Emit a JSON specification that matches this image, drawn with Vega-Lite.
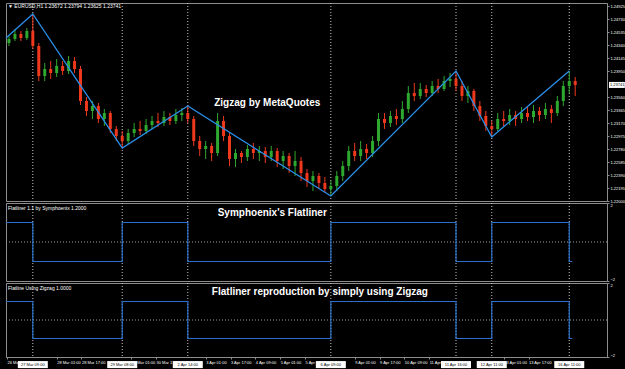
{
  "$schema": "https://vega.github.io/schema/vega-lite/v6.json",
  "background": "#000000",
  "padding": {"left": 2, "top": 2, "right": 2, "bottom": 0},
  "spacing": 2,
  "bounds": "flush",
  "resolve": {"scale": {"x": "shared"}},
  "datasets": {
    "candles": [
      {"t":3,"o":1.2437,"h":1.24475,"l":1.24325,"c":1.2443},
      {"t":9,"o":1.2443,"h":1.2458,"l":1.244,"c":1.24505},
      {"t":15,"o":1.24505,"h":1.2455,"l":1.244,"c":1.24445},
      {"t":21,"o":1.24445,"h":1.24595,"l":1.24415,"c":1.2455},
      {"t":27,"o":1.2455,"h":1.24805,"l":1.2428,"c":1.24325},
      {"t":33,"o":1.24325,"h":1.2437,"l":1.238,"c":1.23875},
      {"t":39,"o":1.23875,"h":1.2407,"l":1.238,"c":1.2398},
      {"t":45,"o":1.2398,"h":1.241,"l":1.2383,"c":1.2392},
      {"t":51,"o":1.2392,"h":1.2413,"l":1.2386,"c":1.24025},
      {"t":57,"o":1.24025,"h":1.241,"l":1.2389,"c":1.2395},
      {"t":63,"o":1.2395,"h":1.24175,"l":1.23905,"c":1.241},
      {"t":69,"o":1.241,"h":1.2416,"l":1.2392,"c":1.2398},
      {"t":75,"o":1.2398,"h":1.24025,"l":1.2344,"c":1.235},
      {"t":81,"o":1.235,"h":1.2356,"l":1.23275,"c":1.2335},
      {"t":87,"o":1.2335,"h":1.235,"l":1.2323,"c":1.23425},
      {"t":93,"o":1.23425,"h":1.2347,"l":1.2317,"c":1.2323},
      {"t":99,"o":1.2323,"h":1.2338,"l":1.23125,"c":1.2332},
      {"t":105,"o":1.2332,"h":1.2335,"l":1.2302,"c":1.2308},
      {"t":111,"o":1.2308,"h":1.23125,"l":1.229,"c":1.22975},
      {"t":117,"o":1.22975,"h":1.2305,"l":1.22795,"c":1.229},
      {"t":123,"o":1.229,"h":1.2308,"l":1.22855,"c":1.2302},
      {"t":129,"o":1.2302,"h":1.2317,"l":1.2296,"c":1.2308},
      {"t":135,"o":1.2308,"h":1.232,"l":1.2299,"c":1.2305},
      {"t":141,"o":1.2305,"h":1.2323,"l":1.23005,"c":1.2314},
      {"t":147,"o":1.2314,"h":1.23275,"l":1.2308,"c":1.232},
      {"t":153,"o":1.232,"h":1.2332,"l":1.2311,"c":1.2317},
      {"t":159,"o":1.2317,"h":1.2335,"l":1.23125,"c":1.2326},
      {"t":165,"o":1.2326,"h":1.2332,"l":1.2314,"c":1.232},
      {"t":171,"o":1.232,"h":1.2338,"l":1.23155,"c":1.2329},
      {"t":177,"o":1.2329,"h":1.23395,"l":1.232,"c":1.2332},
      {"t":183,"o":1.2332,"h":1.23425,"l":1.2317,"c":1.2323},
      {"t":189,"o":1.2323,"h":1.23275,"l":1.22825,"c":1.229},
      {"t":195,"o":1.229,"h":1.22975,"l":1.22675,"c":1.2278},
      {"t":201,"o":1.2278,"h":1.229,"l":1.2263,"c":1.22825},
      {"t":207,"o":1.22825,"h":1.2287,"l":1.226,"c":1.2272},
      {"t":213,"o":1.2272,"h":1.2332,"l":1.22675,"c":1.232},
      {"t":219,"o":1.232,"h":1.23275,"l":1.229,"c":1.22975},
      {"t":225,"o":1.22975,"h":1.2302,"l":1.22525,"c":1.2263},
      {"t":231,"o":1.2263,"h":1.2278,"l":1.2251,"c":1.2272},
      {"t":237,"o":1.2272,"h":1.2275,"l":1.2257,"c":1.2266},
      {"t":243,"o":1.2266,"h":1.2284,"l":1.226,"c":1.2278},
      {"t":249,"o":1.2278,"h":1.2287,"l":1.2263,"c":1.2272},
      {"t":255,"o":1.2272,"h":1.22825,"l":1.226,"c":1.2275},
      {"t":261,"o":1.2275,"h":1.2281,"l":1.2257,"c":1.2266},
      {"t":267,"o":1.2266,"h":1.22825,"l":1.226,"c":1.2275},
      {"t":273,"o":1.2275,"h":1.22795,"l":1.2251,"c":1.226},
      {"t":279,"o":1.226,"h":1.2275,"l":1.2248,"c":1.22675},
      {"t":285,"o":1.22675,"h":1.2272,"l":1.2242,"c":1.22525},
      {"t":291,"o":1.22525,"h":1.2275,"l":1.22375,"c":1.226},
      {"t":297,"o":1.226,"h":1.2266,"l":1.223,"c":1.2242},
      {"t":303,"o":1.2242,"h":1.2248,"l":1.2221,"c":1.223},
      {"t":309,"o":1.223,"h":1.2245,"l":1.2215,"c":1.22375},
      {"t":315,"o":1.22375,"h":1.2242,"l":1.2218,"c":1.2227},
      {"t":321,"o":1.2227,"h":1.2236,"l":1.2212,"c":1.2218},
      {"t":327,"o":1.2218,"h":1.223,"l":1.22075,"c":1.22225},
      {"t":333,"o":1.22225,"h":1.2245,"l":1.2215,"c":1.22375},
      {"t":339,"o":1.22375,"h":1.226,"l":1.223,"c":1.22525},
      {"t":345,"o":1.22525,"h":1.22825,"l":1.2245,"c":1.2275},
      {"t":351,"o":1.2275,"h":1.2287,"l":1.226,"c":1.22675},
      {"t":357,"o":1.22675,"h":1.229,"l":1.226,"c":1.2278},
      {"t":363,"o":1.2278,"h":1.22855,"l":1.2263,"c":1.2272},
      {"t":369,"o":1.2272,"h":1.22975,"l":1.2266,"c":1.229},
      {"t":375,"o":1.229,"h":1.2332,"l":1.22825,"c":1.2323},
      {"t":381,"o":1.2323,"h":1.2332,"l":1.2308,"c":1.2317},
      {"t":387,"o":1.2317,"h":1.2335,"l":1.2311,"c":1.23275},
      {"t":393,"o":1.23275,"h":1.2338,"l":1.2314,"c":1.2323},
      {"t":399,"o":1.2323,"h":1.235,"l":1.2317,"c":1.2338},
      {"t":405,"o":1.2338,"h":1.23725,"l":1.2332,"c":1.2362},
      {"t":411,"o":1.2362,"h":1.2377,"l":1.235,"c":1.23575},
      {"t":417,"o":1.23575,"h":1.2377,"l":1.2353,"c":1.2368},
      {"t":423,"o":1.2368,"h":1.2374,"l":1.2356,"c":1.2362},
      {"t":429,"o":1.2362,"h":1.238,"l":1.23575,"c":1.23725},
      {"t":435,"o":1.23725,"h":1.2383,"l":1.2362,"c":1.2368},
      {"t":441,"o":1.2368,"h":1.23875,"l":1.2365,"c":1.238},
      {"t":447,"o":1.238,"h":1.2392,"l":1.2371,"c":1.2383},
      {"t":453,"o":1.2383,"h":1.2395,"l":1.2365,"c":1.23725},
      {"t":459,"o":1.23725,"h":1.238,"l":1.235,"c":1.23575},
      {"t":465,"o":1.23575,"h":1.23725,"l":1.2347,"c":1.2365},
      {"t":471,"o":1.2365,"h":1.2368,"l":1.2335,"c":1.23425},
      {"t":477,"o":1.23425,"h":1.235,"l":1.232,"c":1.23275},
      {"t":483,"o":1.23275,"h":1.2335,"l":1.2305,"c":1.23125},
      {"t":489,"o":1.23125,"h":1.232,"l":1.2296,"c":1.2308},
      {"t":495,"o":1.2308,"h":1.2332,"l":1.2305,"c":1.2323},
      {"t":501,"o":1.2323,"h":1.2335,"l":1.2311,"c":1.232},
      {"t":507,"o":1.232,"h":1.2338,"l":1.2314,"c":1.2329},
      {"t":513,"o":1.2329,"h":1.2335,"l":1.23125,"c":1.2323},
      {"t":519,"o":1.2323,"h":1.2341,"l":1.2317,"c":1.2332},
      {"t":525,"o":1.2332,"h":1.23425,"l":1.232,"c":1.2326},
      {"t":531,"o":1.2326,"h":1.2344,"l":1.2317,"c":1.2335},
      {"t":537,"o":1.2335,"h":1.2341,"l":1.232,"c":1.2329},
      {"t":543,"o":1.2329,"h":1.2347,"l":1.2323,"c":1.2338},
      {"t":549,"o":1.2338,"h":1.2344,"l":1.2317,"c":1.2332},
      {"t":555,"o":1.2332,"h":1.23575,"l":1.23275,"c":1.235},
      {"t":561,"o":1.235,"h":1.238,"l":1.23425,"c":1.23725},
      {"t":567,"o":1.23725,"h":1.2395,"l":1.2362,"c":1.238},
      {"t":573,"o":1.238,"h":1.2386,"l":1.23575,"c":1.23741}
    ],
    "zigzag": [
      {"t":0,"p":1.24445},
      {"t":27,"p":1.24805},
      {"t":117,"p":1.22795},
      {"t":183,"p":1.23425},
      {"t":327,"p":1.22075},
      {"t":453,"p":1.2395},
      {"t":489,"p":1.2296},
      {"t":567,"p":1.2395}
    ],
    "vlines": [
      {"t":27,"label":"27 Mar 09:00"},
      {"t":117,"label":"29 Mar 08:00"},
      {"t":183,"label":"2 Apr 14:00"},
      {"t":327,"label":"6 Apr 09:00"},
      {"t":453,"label":"11 Apr 16:00"},
      {"t":489,"label":"12 Apr 11:00"},
      {"t":567,"label":"16 Apr 11:00"}
    ],
    "flat": [
      {"t":0,"v":1},
      {"t":27,"v":-1},
      {"t":117,"v":1},
      {"t":183,"v":-1},
      {"t":327,"v":1},
      {"t":453,"v":-1},
      {"t":489,"v":1},
      {"t":567,"v":-1},
      {"t":570,"v":-1}
    ]
  },
  "config": {
    "background": "#000000",
    "font": "Liberation Sans",
    "view": {"stroke": "#8c8c8c", "strokeWidth": 1},
    "axis": {
      "grid": false,
      "domainColor": "#8c8c8c",
      "tickColor": "#8c8c8c",
      "tickSize": 2,
      "labelColor": "#ffffff",
      "labelFontSize": 4,
      "labelFont": "Liberation Sans",
      "labelPadding": 1,
      "labelOverlap": false,
      "labelSeparation": 0,
      "title": null
    }
  },
  "vconcat": [
    {
      "width": 601,
      "height": 198,
      "layer": [
        {
          "data": {"name": "vlines"},
          "mark": {"type": "rule", "color": "#c8c8c8", "strokeDash": [1, 2], "strokeWidth": 1},
          "encoding": {"x": {"field": "t", "type": "quantitative", "scale": {"domain": [0, 605], "padding": 0, "nice": false, "zero": false}, "axis": null}}
        },
        {
          "data": {"name": "candles"},
          "mark": {"type": "rule", "strokeWidth": 1},
          "encoding": {
            "x": {"field": "t", "type": "quantitative", "axis": null},
            "y": {"field": "l", "type": "quantitative", "scale": {"domain": [1.22, 1.2497], "zero": false, "nice": false},
              "axis": {"orient": "right", "labelOverlap": false, "labelFlush": false, "labelSeparation": 0, "values": [1.22, 1.22195, 1.2239, 1.22585, 1.2278, 1.22975, 1.2317, 1.23365, 1.2356, 1.2395, 1.24145, 1.2434, 1.24535, 1.2473, 1.24925], "format": ".5f"}},
            "y2": {"field": "h"},
            "color": {"condition": {"test": "datum.c >= datum.o", "value": "#2fa82f"}, "value": "#f0381c"}
          }
        },
        {
          "data": {"name": "candles"},
          "mark": {"type": "rule", "strokeWidth": 3, "strokeCap": "butt"},
          "encoding": {
            "x": {"field": "t", "type": "quantitative", "axis": null},
            "y": {"field": "o", "type": "quantitative",
              "axis": {"orient": "right", "labelOverlap": false, "labelFlush": false, "labelSeparation": 0, "values": [1.22, 1.22195, 1.2239, 1.22585, 1.2278, 1.22975, 1.2317, 1.23365, 1.2356, 1.2395, 1.24145, 1.2434, 1.24535, 1.2473, 1.24925], "format": ".5f"}},
            "y2": {"field": "c"},
            "color": {"condition": {"test": "datum.c >= datum.o", "value": "#2fa82f"}, "value": "#f0381c"}
          }
        },
        {
          "data": {"name": "zigzag"},
          "mark": {"type": "line", "color": "#2a8fe8", "strokeWidth": 1.3},
          "encoding": {
            "x": {"field": "t", "type": "quantitative", "axis": null},
            "y": {"field": "p", "type": "quantitative",
              "axis": {"orient": "right", "labelOverlap": false, "labelFlush": false, "labelSeparation": 0, "values": [1.22, 1.22195, 1.2239, 1.22585, 1.2278, 1.22975, 1.2317, 1.23365, 1.2356, 1.2395, 1.24145, 1.2434, 1.24535, 1.2473, 1.24925], "format": ".5f"}}
          }
        },
        {
          "data": {"values": [{"p": 1.23741}]},
          "mark": {"type": "rule", "color": "#ffffff", "strokeWidth": 6, "strokeCap": "butt"},
          "encoding": {
            "x": {"datum": 607},
            "x2": {"datum": 623},
            "y": {"field": "p", "type": "quantitative",
              "axis": {"orient": "right", "labelOverlap": false, "labelFlush": false, "labelSeparation": 0, "values": [1.22, 1.22195, 1.2239, 1.22585, 1.2278, 1.22975, 1.2317, 1.23365, 1.2356, 1.2395, 1.24145, 1.2434, 1.24535, 1.2473, 1.24925], "format": ".5f"}}
          }
        },
        {
          "data": {"values": [{"p": 1.23741}]},
          "mark": {"type": "text", "color": "#000000", "fontSize": 4, "align": "left", "baseline": "middle"},
          "encoding": {
            "x": {"datum": 608},
            "y": {"field": "p", "type": "quantitative",
              "axis": {"orient": "right", "labelOverlap": false, "labelFlush": false, "labelSeparation": 0, "values": [1.22, 1.22195, 1.2239, 1.22585, 1.2278, 1.22975, 1.2317, 1.23365, 1.2356, 1.2395, 1.24145, 1.2434, 1.24535, 1.2473, 1.24925], "format": ".5f"}},
            "text": {"field": "p", "type": "quantitative", "format": ".5f"}
          }
        },
        {
          "data": {"values": [{"t": 263, "p": 1.2347, "txt": "Zigzag by MetaQuotes"}]},
          "mark": {"type": "text", "color": "#ffffff", "fontSize": 10, "fontWeight": "bold", "align": "center", "baseline": "middle"},
          "encoding": {
            "x": {"field": "t", "type": "quantitative", "axis": null},
            "y": {"field": "p", "type": "quantitative",
              "axis": {"orient": "right", "labelOverlap": false, "labelFlush": false, "labelSeparation": 0, "values": [1.22, 1.22195, 1.2239, 1.22585, 1.2278, 1.22975, 1.2317, 1.23365, 1.2356, 1.2395, 1.24145, 1.2434, 1.24535, 1.2473, 1.24925], "format": ".5f"}},
            "text": {"field": "txt"}
          }
        },
        {
          "data": {"values": [{"t": 2, "p": 1.2493, "txt": "▼ EURUSD,H1  1.23672  1.23794  1.23625  1.23741"}]},
          "mark": {"type": "text", "color": "#ffffff", "fontSize": 5, "align": "left", "baseline": "middle"},
          "encoding": {
            "x": {"field": "t", "type": "quantitative", "axis": null},
            "y": {"field": "p", "type": "quantitative",
              "axis": {"orient": "right", "labelOverlap": false, "labelFlush": false, "labelSeparation": 0, "values": [1.22, 1.22195, 1.2239, 1.22585, 1.2278, 1.22975, 1.2317, 1.23365, 1.2356, 1.2395, 1.24145, 1.2434, 1.24535, 1.2473, 1.24925], "format": ".5f"}},
            "text": {"field": "txt"}
          }
        }
      ]
    },
    {
      "width": 601,
      "height": 78,
      "layer": [
        {
          "data": {"name": "vlines"},
          "mark": {"type": "rule", "color": "#c8c8c8", "strokeDash": [1, 2], "strokeWidth": 1},
          "encoding": {"x": {"field": "t", "type": "quantitative", "axis": null}}
        },
        {
          "data": {"values": [{"v": 0}]},
          "mark": {"type": "rule", "color": "#a0a0a0", "strokeDash": [1, 2], "strokeWidth": 1},
          "encoding": {"y": {"field": "v", "type": "quantitative", "scale": {"domain": [-2, 2], "nice": false},
            "axis": {"orient": "right", "values": [-2, 0, 2], "labelFlush": true, "labelOverlap": false, "labelExpr": "datum.value == 0 ? '0.00' : datum.label"}}}
        },
        {
          "data": {"name": "flat"},
          "mark": {"type": "line", "interpolate": "step-after", "color": "#2a6fc9", "strokeWidth": 1.2},
          "encoding": {
            "x": {"field": "t", "type": "quantitative", "axis": null},
            "y": {"field": "v", "type": "quantitative"}
          }
        },
        {
          "data": {"values": [{"t": 268, "v": 1.48, "txt": "Symphoenix's Flatliner"}]},
          "mark": {"type": "text", "color": "#ffffff", "fontSize": 10, "fontWeight": "bold", "align": "center", "baseline": "middle"},
          "encoding": {
            "x": {"field": "t", "type": "quantitative"},
            "y": {"field": "v", "type": "quantitative"},
            "text": {"field": "txt"}
          }
        },
        {
          "data": {"values": [{"t": 2, "v": 1.75, "txt": "Flatliner 1.1 by Symphoenix  1.2000"}]},
          "mark": {"type": "text", "color": "#ffffff", "fontSize": 5, "align": "left", "baseline": "middle"},
          "encoding": {
            "x": {"field": "t", "type": "quantitative"},
            "y": {"field": "v", "type": "quantitative"},
            "text": {"field": "txt"}
          }
        }
      ]
    },
    {
      "width": 601,
      "height": 74,
      "layer": [
        {
          "data": {"name": "vlines"},
          "mark": {"type": "rule", "color": "#c8c8c8", "strokeDash": [1, 2], "strokeWidth": 1},
          "encoding": {"x": {"field": "t", "type": "quantitative",
            "axis": {"orient": "bottom", "values": [1, 51, 76, 126, 151, 201, 226, 251, 276, 301, 351, 376, 401, 426, 501, 526],
              "labelAlign": "left", "labelFlush": false, "labelOverlap": false,
              "labelExpr": "datum.value == 1 ? '26 Mar 2018' : datum.value == 51 ? '28 Mar 01:00' : datum.value == 76 ? '28 Mar 17:00' : datum.value == 126 ? '30 Mar 01:00' : datum.value == 151 ? '30 Mar 17:00' : datum.value == 201 ? '3 Apr 01:00' : datum.value == 226 ? '3 Apr 17:00' : datum.value == 251 ? '4 Apr 09:00' : datum.value == 276 ? '5 Apr 01:00' : datum.value == 301 ? '5 Apr 17:00' : datum.value == 351 ? '9 Apr 01:00' : datum.value == 376 ? '9 Apr 17:00' : datum.value == 401 ? '10 Apr 09:00' : datum.value == 426 ? '11 Apr 01:00' : datum.value == 501 ? '13 Apr 01:00' : '13 Apr 17:00'"}}}
        },
        {
          "data": {"values": [{"v": 0}]},
          "mark": {"type": "rule", "color": "#a0a0a0", "strokeDash": [1, 2], "strokeWidth": 1},
          "encoding": {"y": {"field": "v", "type": "quantitative", "scale": {"domain": [-2, 2], "nice": false},
            "axis": {"orient": "right", "values": [-2, 0, 2], "labelFlush": true, "labelOverlap": false, "labelExpr": "datum.value == 0 ? '0.00' : datum.label"}}}
        },
        {
          "data": {"name": "flat"},
          "mark": {"type": "line", "interpolate": "step-after", "color": "#2a6fc9", "strokeWidth": 1.2},
          "encoding": {
            "x": {"field": "t", "type": "quantitative"},
            "y": {"field": "v", "type": "quantitative"}
          }
        },
        {
          "data": {"name": "vlines"},
          "mark": {"type": "rule", "color": "#ffffff", "strokeWidth": 30, "strokeCap": "butt"},
          "encoding": {
            "x": {"field": "t", "type": "quantitative"},
            "y": {"datum": -2.22},
            "y2": {"datum": -2.6}
          }
        },
        {
          "data": {"name": "vlines"},
          "mark": {"type": "text", "color": "#000000", "fontSize": 4, "align": "center", "baseline": "middle"},
          "encoding": {
            "x": {"field": "t", "type": "quantitative"},
            "y": {"datum": -2.41},
            "text": {"field": "label"}
          }
        },
        {
          "data": {"values": [{"t": 316, "v": 1.51, "txt": "Flatliner reproduction by simply using Zigzag"}]},
          "mark": {"type": "text", "color": "#ffffff", "fontSize": 10, "fontWeight": "bold", "align": "center", "baseline": "middle"},
          "encoding": {
            "x": {"field": "t", "type": "quantitative"},
            "y": {"field": "v", "type": "quantitative"},
            "text": {"field": "txt"}
          }
        },
        {
          "data": {"values": [{"t": 2, "v": 1.75, "txt": "Flatline Using Zigzag  1.0000"}]},
          "mark": {"type": "text", "color": "#ffffff", "fontSize": 5, "align": "left", "baseline": "middle"},
          "encoding": {
            "x": {"field": "t", "type": "quantitative"},
            "y": {"field": "v", "type": "quantitative"},
            "text": {"field": "txt"}
          }
        }
      ]
    }
  ]
}
